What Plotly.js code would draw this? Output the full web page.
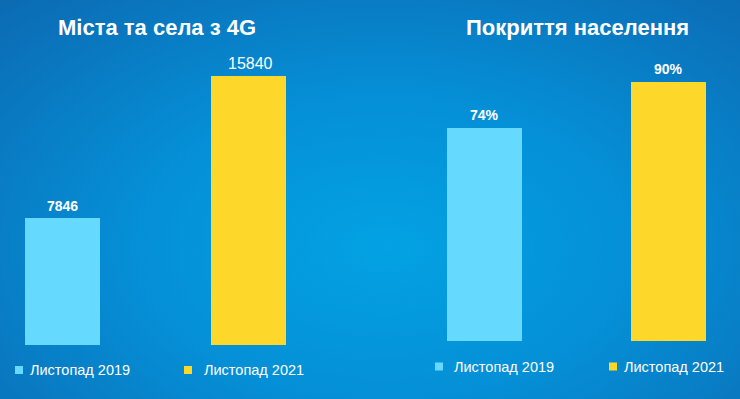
<!DOCTYPE html>
<html>
<head>
<meta charset="utf-8">
<script src="https://cdn.plot.ly/plotly-3.0.1.min.js"></script>
<style>
  html, body { margin: 0; padding: 0; }
  body {
    width: 740px; height: 399px; overflow: hidden;
    background: radial-gradient(ellipse 75% 85% at 52% 62%, #03a2e4 0%, #058fd6 45%, #0a74bc 85%, #0b6bb3 100%);
  }
  #chart { width: 740px; height: 399px; }
</style>
</head>
<body>
<div id="chart"></div>
<script>
// ---- data ----
const categories = ["Листопад 2019", "Листопад 2021"];
const townsValues = [7846, 15840];
const townsLabels = ["7846", "15840"];
const coverageValues = [74, 90];
const coverageLabels = ["74%", "90%"];
const titles = ["Міста та села з 4G", "Покриття населення"];

// ---- styling ----
const barColors = ["#66d9ff", "#fdd82a"];
const W = 740, H = 399;
const px = p => p / W;
const py = p => 1 - p / H;
const FONT = "Liberation Sans, Arial, sans-serif";

const traces = [
  {
    type: "bar", x: categories, y: townsValues, xaxis: "x", yaxis: "y",
    marker: { color: barColors }, width: 75 / 186, hoverinfo: "x+y", showlegend: false
  },
  {
    type: "bar", x: categories, y: coverageValues, xaxis: "x2", yaxis: "y2",
    marker: { color: barColors }, width: 75 / 184, hoverinfo: "x+y", showlegend: false
  }
];

const hidden = { showgrid: false, zeroline: false, showticklabels: false, showline: false, ticks: "" };

const annotations = [];
// value labels
const townsFonts = [{ size: 14, weight: 700, dx: 0 }, { size: 16, weight: 400, dx: 2 }];
townsValues.forEach((v, i) => annotations.push({
  xref: "x", yref: "y", x: categories[i], y: v, text: townsLabels[i],
  showarrow: false, yanchor: "bottom", yshift: 2, xshift: townsFonts[i].dx,
  font: { family: FONT, color: "#ffffff", size: townsFonts[i].size, weight: townsFonts[i].weight }
}));
coverageValues.forEach((v, i) => annotations.push({
  xref: "x2", yref: "y2", x: categories[i], y: v, text: coverageLabels[i],
  showarrow: false, yanchor: "bottom", yshift: 3,
  font: { family: FONT, color: "#ffffff", size: 14, weight: 700 }
}));
// titles
[157, 577].forEach((cx, i) => annotations.push({
  xref: "paper", yref: "paper", x: px(cx), y: py(27), xanchor: "center", yanchor: "middle",
  text: titles[i], showarrow: false,
  font: { family: FONT, color: "#ffffff", size: 22, weight: 700 }
}));
// legends
const legendRows = [
  { sq: [15, 184], tx: [28, 202], cy: 370 },
  { sq: [435, 609], tx: [452, 622], cy: 366.5 }
];
const shapes = [];
legendRows.forEach(row => {
  categories.forEach((c, i) => {
    shapes.push({
      type: "rect", xref: "paper", yref: "paper",
      x0: px(row.sq[i]), x1: px(row.sq[i] + 8), y0: py(row.cy + 4), y1: py(row.cy - 4),
      fillcolor: barColors[i], line: { width: 0 }
    });
    annotations.push({
      xref: "paper", yref: "paper", x: px(row.tx[i]), y: py(row.cy), xanchor: "left", yanchor: "middle",
      text: c, showarrow: false,
      font: { family: FONT, color: "#ffffff", size: 14.5 }
    });
  });
});

const layout = {
  width: W, height: H,
  margin: { l: 0, r: 0, t: 0, b: 0, pad: 0 },
  paper_bgcolor: "rgba(0,0,0,0)", plot_bgcolor: "rgba(0,0,0,0)",
  xaxis: Object.assign({ domain: [0, px(370)], type: "category", range: [-62.5 / 186, (370 - 62.5) / 186] }, hidden),
  yaxis: Object.assign({ domain: [py(345), 1], range: [700, 20117] }, hidden),
  xaxis2: Object.assign({ domain: [px(370), 1], type: "category", range: [(370 - 484.5) / 184, (740 - 484.5) / 184] }, hidden),
  yaxis2: Object.assign({ domain: [py(341), 1], range: [0, 118.5] }, hidden),
  annotations: annotations,
  shapes: shapes,
  showlegend: false
};

Plotly.newPlot("chart", traces, layout, { displayModeBar: false, staticPlot: true });
</script>
</body>
</html>
